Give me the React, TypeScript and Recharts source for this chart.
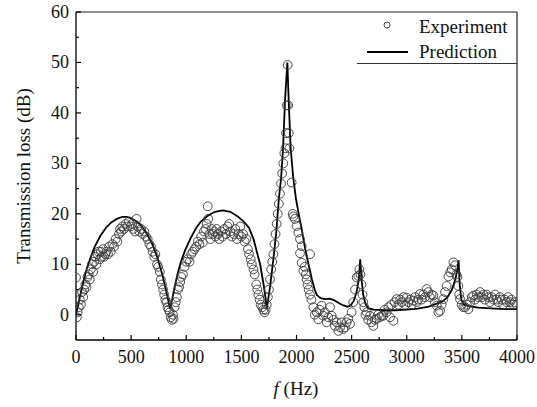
import { ComposedChart, Scatter, Line, XAxis, YAxis, ReferenceLine, Legend } from "recharts";

// measured transmission loss, [frequency Hz, dB]
const experimentPoints: [number, number][] = [
  [0, 7.4], [8, -0.5], [15, 0.5], [25, 1.5], [35, 3], [45, 2], [55, 4.5], [65, 3.5], [75, 5], [85, 6],
  [95, 5.5], [105, 7.5], [115, 8], [125, 7], [135, 9], [145, 10], [155, 8.5], [165, 10.5], [175, 11.5], [185, 10],
  [195, 12], [205, 12.5], [215, 11], [225, 12.5], [235, 11.5], [245, 13], [255, 11.5], [265, 12], [275, 12.5], [290, 12],
  [300, 13.5], [315, 12.5], [330, 14], [345, 13.5], [360, 15], [375, 14.5], [390, 16], [400, 17], [410, 16.5], [420, 17.5],
  [435, 17], [450, 18], [465, 17.5], [480, 18.5], [495, 17.5], [510, 18], [520, 17], [535, 16.5], [550, 19], [560, 17.5],
  [575, 16.5], [590, 17], [605, 16], [620, 16.5], [635, 15.5], [650, 15], [665, 14], [680, 13.5], [695, 12.5], [710, 11.5],
  [720, 12], [735, 10], [745, 9.5], [760, 8.5], [770, 7], [780, 6], [790, 5], [800, 4], [810, 3], [820, 2.5],
  [830, 1.5], [840, 1], [850, 0.5], [860, -0.5], [870, -1], [880, 0], [885, -0.8], [895, 1.5], [905, 2.5], [915, 3.5],
  [925, 5], [935, 5.5], [945, 6.5], [955, 7.5], [970, 8], [985, 9.5], [1000, 10.5], [1015, 11], [1030, 10.5], [1045, 12],
  [1060, 12.5], [1075, 13], [1090, 13.5], [1105, 14.5], [1120, 14], [1135, 15.5], [1150, 14.3], [1160, 16.5], [1175, 17], [1185, 18],
  [1195, 21.5], [1200, 19], [1210, 16], [1220, 15], [1230, 17], [1240, 16], [1255, 16.5], [1265, 15.5], [1275, 17], [1290, 16],
  [1300, 15], [1315, 16.5], [1330, 15.5], [1345, 17], [1360, 16], [1375, 17.5], [1390, 18], [1400, 16.5], [1415, 15.5], [1430, 16],
  [1445, 17], [1460, 15], [1475, 16], [1490, 17.5], [1500, 15.5], [1515, 16], [1530, 14.5], [1545, 15], [1560, 13], [1570, 12],
  [1585, 11], [1595, 10], [1610, 9], [1620, 8], [1635, 6], [1645, 5], [1655, 4], [1665, 3], [1675, 2], [1690, 1.5],
  [1700, 1], [1710, 0.5], [1720, 1], [1730, 2], [1740, 3.5], [1750, 5], [1760, 7], [1770, 9], [1780, 10.5], [1790, 12],
  [1800, 14], [1810, 16], [1820, 18], [1830, 20], [1840, 22], [1850, 24], [1860, 26], [1870, 28], [1880, 30], [1890, 32],
  [1900, 33], [1905, 36], [1912, 41.5], [1920, 49.5], [1925, 41.5], [1930, 36], [1935, 33], [1956, 26.2], [1966, 20], [1971, 19.5],
  [1986, 19], [2001, 17.6], [2016, 16.3], [2032, 15], [2047, 13.6], [2032, 12.2], [2047, 10.3], [2062, 8.7], [2075, 9.5], [2085, 8],
  [2092, 7], [2100, 6], [2110, 5], [2122, 12], [2122, 4], [2135, 3], [2153, 1.5], [2165, 0], [2183, 0.5], [2198, -0.9],
  [2210, 1], [2228, 1.8], [2243, -0.2], [2258, 0.5], [2273, -1.5], [2288, -0.5], [2304, 1.5], [2319, -0.2], [2334, -1], [2349, -2.2],
  [2365, -1.5], [2380, -3.2], [2395, -2.5], [2410, -1.5], [2425, -2.8], [2440, -2.5], [2455, -1.5], [2470, -0.8], [2485, -1.8], [2500, 0.5],
  [2515, 2.5], [2531, 5], [2546, 7.4], [2561, 7.7], [2570, 9], [2580, 8], [2590, 6], [2598, 4], [2606, 2.5], [2615, 1.5],
  [2625, 0], [2637, 0.5], [2650, -1], [2667, -0.2], [2680, -1.5], [2697, -2.2], [2710, -1], [2727, -0.8], [2740, 0], [2755, -0.5],
  [2773, -0.2], [2788, -0.2], [2800, 1], [2818, 0.5], [2833, 1.5], [2848, -0.5], [2860, 2], [2879, -1.2], [2890, 2.5], [2909, 3.1],
  [2925, 2], [2940, 3], [2955, 2.5], [2970, 3.5], [2985, 2], [2999, 3.4], [3015, 2.5], [3030, 3], [3045, 2], [3060, 2.8],
  [3075, 3.5], [3090, 2.5], [3105, 3], [3120, 4.1], [3135, 3], [3150, 4], [3165, 3.5], [3181, 5.1], [3195, 4.5], [3210, 3.5],
  [3225, 4], [3241, 3.8], [3255, 2.5], [3272, 1.8], [3287, 0.5], [3302, 0.8], [3317, 2], [3332, 3.1], [3347, 4.5], [3362, 5.7],
  [3378, 7.6], [3393, 8.4], [3408, 9], [3423, 10.4], [3438, 9.8], [3450, 8], [3460, 7.5], [3468, 5.7], [3476, 4], [3483, 3.1],
  [3498, 2], [3513, 1.5], [3530, 1.5], [3545, 2], [3559, 1.1], [3575, 2.5], [3590, 3.5], [3604, 3.8], [3620, 3], [3635, 4],
  [3650, 3.5], [3665, 4.5], [3680, 3.5], [3695, 4], [3710, 3], [3725, 4], [3740, 3.5], [3755, 2.5], [3770, 3.5], [3785, 3],
  [3800, 4], [3815, 3], [3830, 2.5], [3845, 3.5], [3860, 3], [3875, 2], [3890, 3], [3905, 2.5], [3920, 3.5], [3935, 2.5],
  [3950, 3], [3965, 2], [3980, 2.5], [3995, 2],
];

// predicted transmission loss, [frequency Hz, dB]
const predictionPoints: [number, number][] = [
  [0, 0], [25, 2.5], [50, 5], [75, 7.3], [100, 9.3], [130, 11.2], [170, 13.5], [220, 15.6], [270, 17.2], [320, 18.3],
  [370, 19], [420, 19.4], [460, 19.4], [500, 19.1], [550, 18.5], [600, 17.5], [650, 15.8], [700, 13.6], [740, 11.2], [780, 8.2],
  [810, 5.5], [835, 3], [853, 1.2], [870, 2.8], [890, 5], [920, 8], [950, 10.4], [990, 12.8], [1040, 15.2], [1090, 17.2],
  [1130, 18.4], [1200, 19.7], [1260, 20.4], [1330, 20.7], [1400, 20.4], [1460, 19.6], [1520, 18.5], [1570, 17.2], [1610, 15],
  [1640, 12.5], [1670, 10], [1700, 6.2], [1720, 3.2], [1730, 1.2], [1760, 5.5], [1790, 11], [1815, 16], [1840, 23], [1860, 27],
  [1878, 33], [1896, 42.5], [1917, 50], [1930, 42], [1947, 33], [1971, 27], [1995, 23], [2020, 20], [2047, 17], [2075, 13.5],
  [2105, 10.4], [2140, 7], [2165, 5], [2185, 3.9], [2220, 3.3], [2260, 3.1], [2300, 3.2], [2340, 2.9], [2380, 2.4], [2420, 1.9],
  [2460, 1.6], [2490, 1.8], [2520, 2.8], [2545, 4.5], [2565, 7], [2578, 11], [2590, 7], [2605, 4], [2625, 2.2], [2650, 1.3],
  [2700, 1], [2800, 0.9], [2900, 0.9], [3000, 1], [3100, 1.2], [3200, 1.6], [3260, 2.1], [3320, 2.6], [3370, 3.5], [3410, 5],
  [3440, 7], [3460, 9], [3470, 10.8], [3480, 6], [3495, 3], [3520, 2], [3560, 1.7], [3650, 1.4], [3800, 1.2], [3900, 1.1],
  [4000, 1.1],
];

const xTicks = [0, 250, 500, 750, 1000, 1250, 1500, 1750, 2000, 2250, 2500, 2750, 3000, 3250, 3500, 3750, 4000];
const yTicks = [0, 5, 10, 15, 20, 25, 30, 35, 40, 45, 50, 55, 60];

const experiment = experimentPoints.map(([f, tl]) => ({ f, tl }));
const prediction = predictionPoints.map(([f, tl]) => ({ f, tl }));

const FONT = '"Liberation Serif", "Times New Roman", "DejaVu Serif", serif';
const txt = { fontFamily: FONT, fill: "#111" };

const XTick = (props: any) => {
  const { x, y, payload } = props;
  const major = payload.value % 500 === 0;
  return (
    <g>
      <line x1={x} x2={x} y1={y} y2={y - (major ? 5 : 3)} stroke="#000" strokeWidth={1.2} />
      {major && (
        <text x={x} y={y + 23} textAnchor="middle" style={{ ...txt, fontSize: 18 }}>
          {payload.value}
        </text>
      )}
    </g>
  );
};

const YTick = (props: any) => {
  const { x, y, payload } = props;
  const major = payload.value % 10 === 0;
  return (
    <g>
      <line x1={x} x2={x + (major ? 5 : 3)} y1={y} y2={y} stroke="#000" strokeWidth={1.2} />
      {major && (
        <text x={x - 7} y={y + 6} textAnchor="end" style={{ ...txt, fontSize: 18 }}>
          {payload.value}
        </text>
      )}
    </g>
  );
};

const OpenCircle = (props: any) => {
  const { cx, cy } = props;
  return <circle cx={cx} cy={cy} r={4.4} fill="none" stroke="#3a3a3a" strokeWidth={0.9} />;
};

const LegendBox = () => (
  <svg width={160} height={53} style={{ display: "block" }}>
    <circle cx={30} cy={13} r={3} fill="none" stroke="#333" strokeWidth={0.9} />
    <text x={62} y={21} style={{ ...txt, fontSize: 19 }}>Experiment</text>
    <line x1={10} x2={51} y1={40} y2={40} stroke="#000" strokeWidth={2} />
    <text x={62} y={46} style={{ ...txt, fontSize: 19 }}>Prediction</text>
    <line x1={0} x2={160} y1={51.5} y2={51.5} stroke="#333" strokeWidth={1} />
  </svg>
);

export default function App() {
  return (
    <div style={{ position: "absolute", left: 0, top: 0, background: "#fff", fontFamily: FONT }}>
      <ComposedChart
        width={537}
        height={407}
        margin={{ top: 12, right: 20, bottom: 0, left: 0 }}
      >
        <XAxis
          type="number"
          dataKey="f"
          domain={[0, 4000]}
          ticks={xTicks}
          interval={0}
          height={67}
          tickSize={0}
          tickMargin={0}
          tickLine={false}
          tick={<XTick />}
          axisLine={{ stroke: "#000", strokeWidth: 1.3 }}
          allowDataOverflow
          label={{
            content: () => (
              <text x={296} y={395} textAnchor="middle" style={{ ...txt, fontSize: 19 }}>
                <tspan fontStyle="italic">f</tspan>
                <tspan> (Hz)</tspan>
              </text>
            ),
          }}
        />
        <YAxis
          type="number"
          dataKey="tl"
          domain={[-5, 60]}
          ticks={yTicks}
          interval={0}
          width={76}
          tickSize={0}
          tickMargin={0}
          tickLine={false}
          tick={<YTick />}
          axisLine={{ stroke: "#000", strokeWidth: 1.3 }}
          allowDataOverflow
          label={{
            content: () => (
              <text
                x={23}
                y={176}
                transform="rotate(-90, 23, 176)"
                textAnchor="middle"
                dominantBaseline="central"
                style={{ ...txt, fontSize: 19 }}
              >
                Transmission loss (dB)
              </text>
            ),
          }}
        />
        <ReferenceLine y={60} stroke="#222" strokeWidth={1.2} />
        <ReferenceLine x={4000} stroke="#222" strokeWidth={1.2} />
        <Scatter
          name="Experiment"
          data={experiment}
          dataKey="tl"
          shape={<OpenCircle />}
          isAnimationActive={false}
        />
        <Line
          name="Prediction"
          data={prediction}
          dataKey="tl"
          type="linear"
          stroke="#000"
          strokeWidth={1.8}
          dot={false}
          activeDot={false}
          isAnimationActive={false}
        />
        <Legend
          layout="horizontal"
          verticalAlign="middle"
          align="center"
          content={<LegendBox />}
          wrapperStyle={{ top: 12, left: 357, width: 160, height: 53 }}
        />
      </ComposedChart>
    </div>
  );
}
